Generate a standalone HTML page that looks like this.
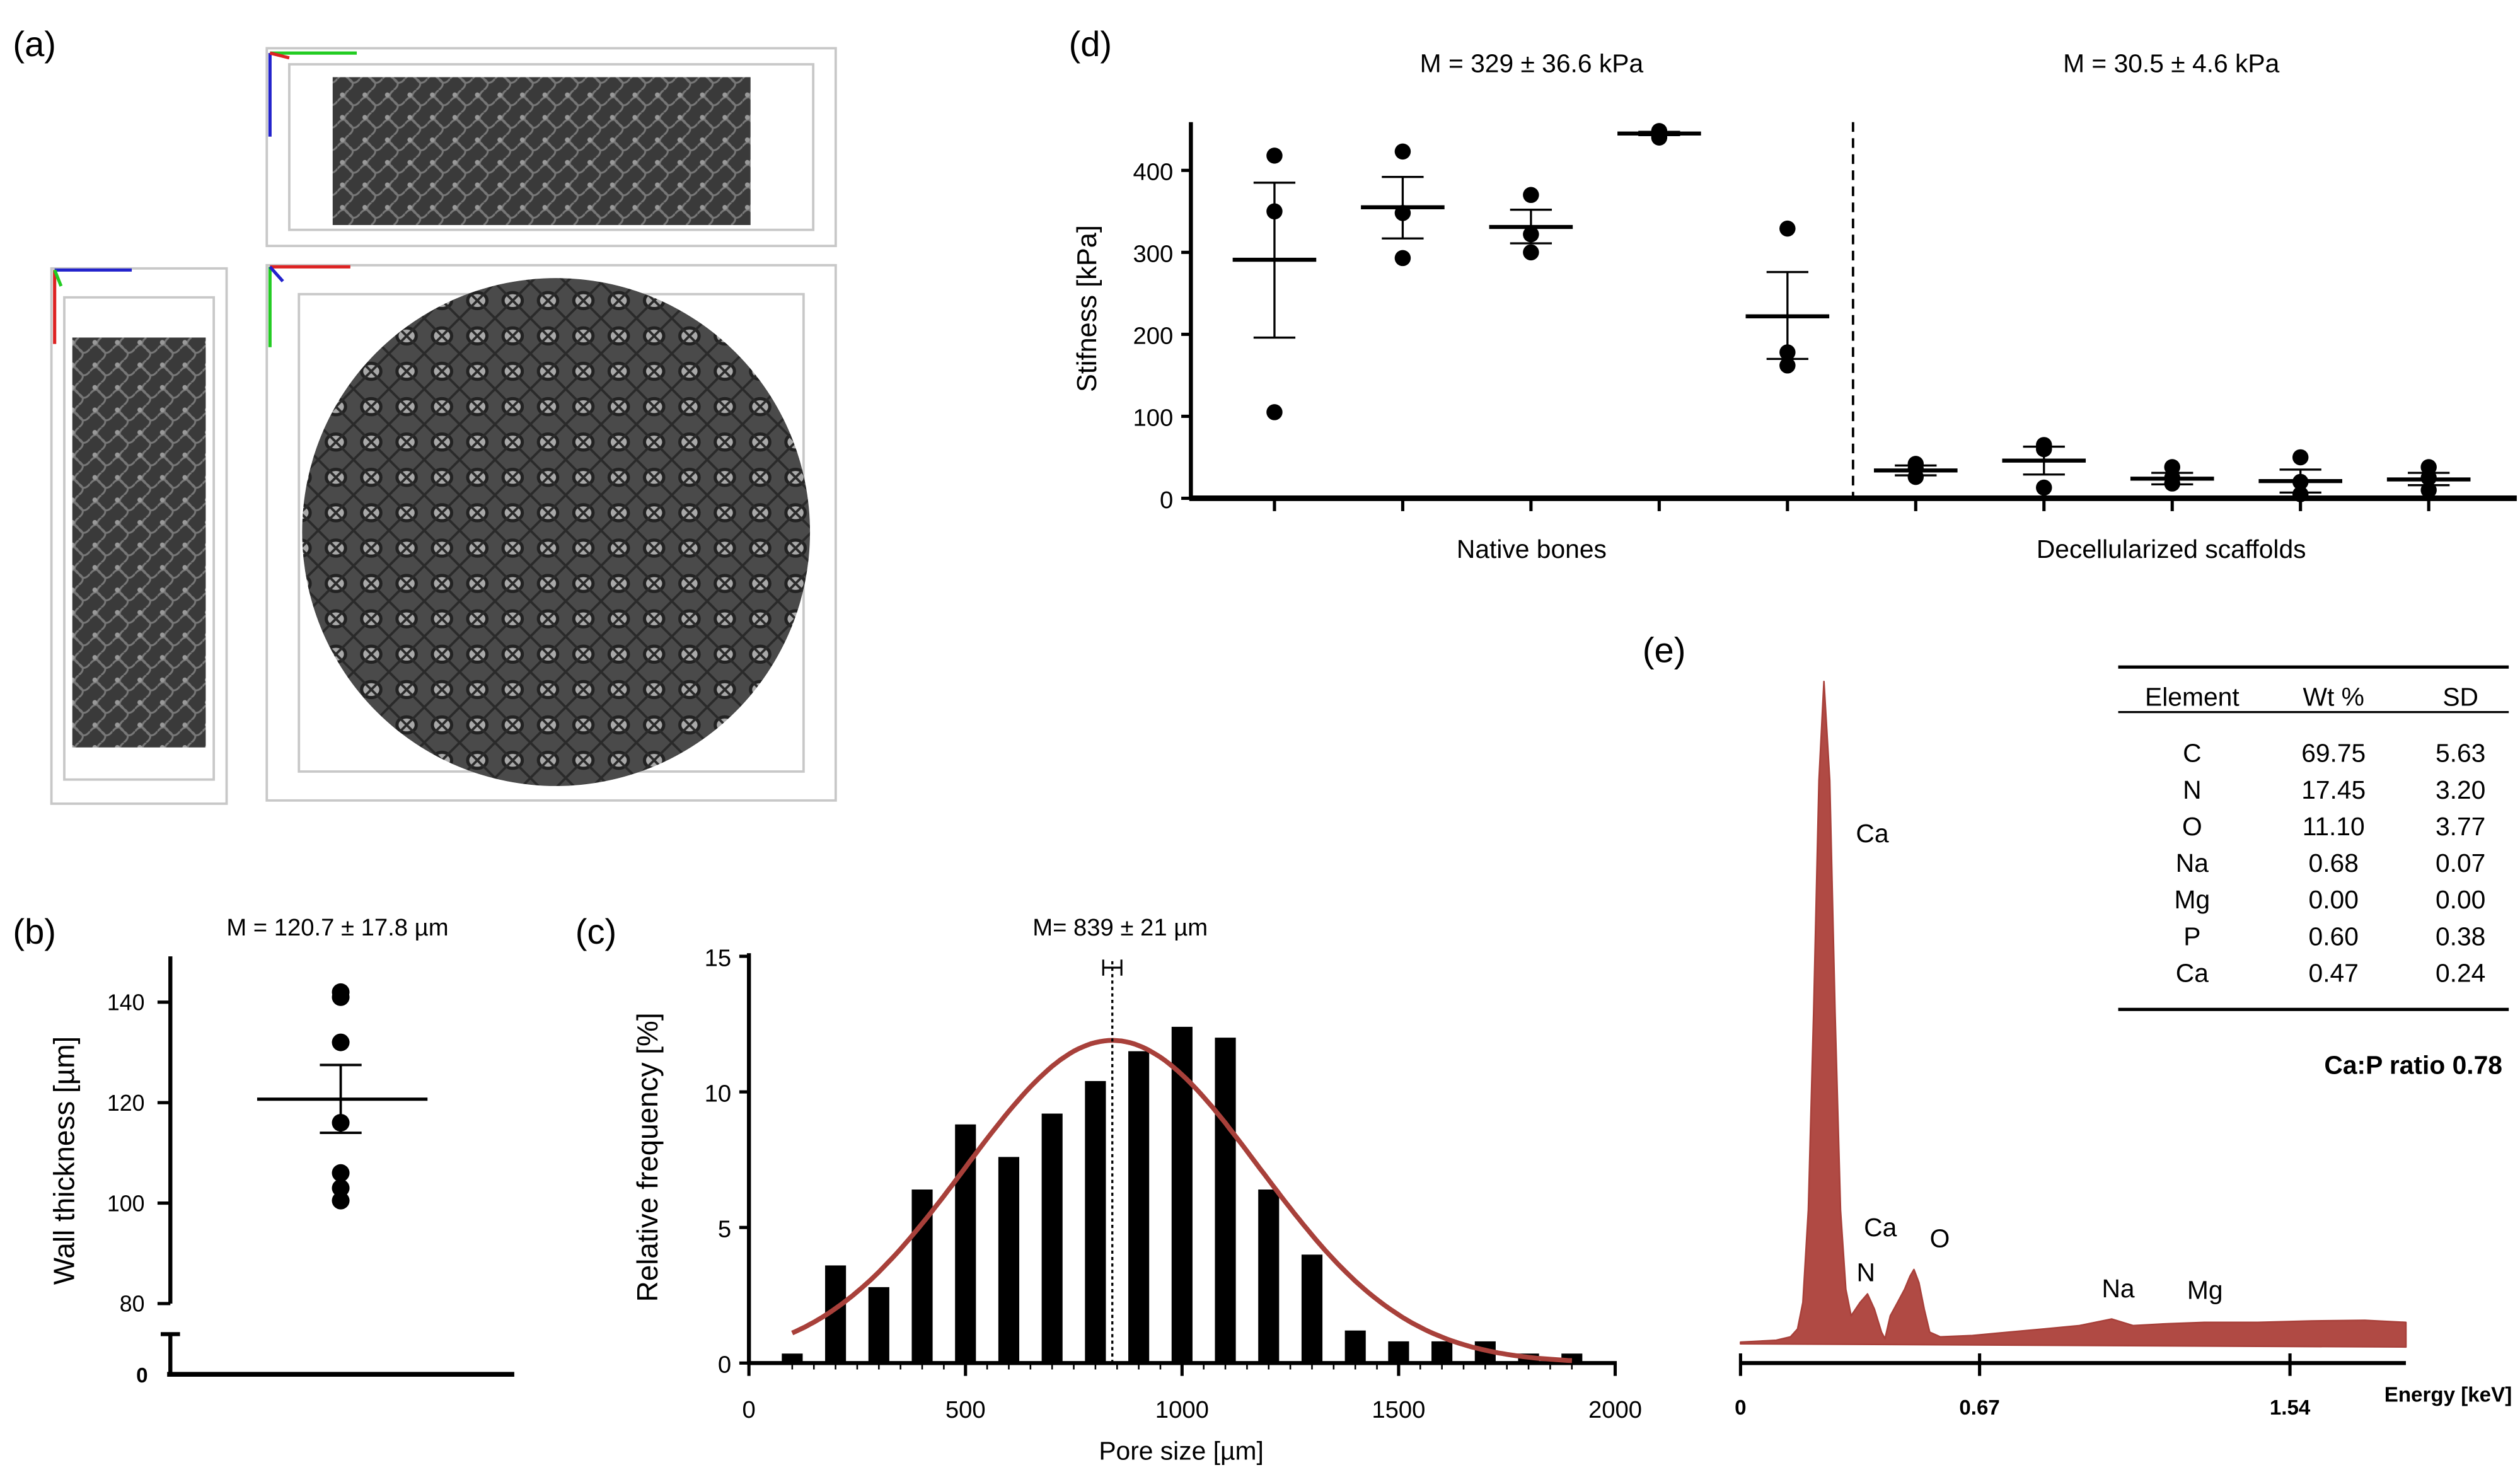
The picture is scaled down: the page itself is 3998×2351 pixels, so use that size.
<!DOCTYPE html>
<html><head><meta charset="utf-8"><style>
html,body{margin:0;padding:0;background:#fff;}
svg{display:block;font-family:"Liberation Sans",sans-serif;}
</style></head><body>
<svg id="fig" width="3998" height="2351" viewBox="0 0 1568 922" preserveAspectRatio="none" xmlns="http://www.w3.org/2000/svg">
<defs>
<pattern id="mesh" width="14" height="14" patternUnits="userSpaceOnUse">
<rect width="14" height="14" fill="#3a3a3a"/>
<path d="M0 7 Q4 2 7 7 T14 7 M7 0 Q2 4 7 7 T7 14" stroke="#777" stroke-width="1.2" fill="none"/>
<circle cx="3" cy="3" r="1.5" fill="#999"/>
</pattern>
<pattern id="mesh2" width="22" height="22" patternUnits="userSpaceOnUse">
<rect width="22" height="22" fill="#4a4a4a"/>
<ellipse cx="11" cy="11" rx="6" ry="5" fill="#a9a9a9" stroke="#222" stroke-width="2"/>
<path d="M0 0 L22 22 M22 0 L0 22" stroke="#2a2a2a" stroke-width="1.5"/>
</pattern>
</defs>
<g>
<text x="8" y="35" font-size="22">(a)</text>
<g fill="none" stroke="#c8c8c8" stroke-width="1.5">
<rect x="166" y="30" width="354" height="123"/><rect x="180" y="40" width="326" height="103"/>
<rect x="32" y="167" width="109" height="333"/><rect x="40" y="185" width="93" height="300"/>
<rect x="166" y="165" width="354" height="333"/><rect x="186" y="183" width="314" height="297"/>
</g>
<rect x="207" y="48" width="260" height="92" fill="url(#mesh)"/>
<rect x="45" y="210" width="83" height="255" fill="url(#mesh)"/>
<circle cx="346" cy="331" r="158" fill="url(#mesh2)"/>
<g stroke-width="2">
<line x1="168" y1="33" x2="222" y2="33" stroke="#2c2"/><line x1="168" y1="33" x2="168" y2="85" stroke="#22c"/><line x1="168" y1="33" x2="180" y2="36" stroke="#d22"/>
<line x1="34" y1="168" x2="82" y2="168" stroke="#22c"/><line x1="34" y1="168" x2="34" y2="214" stroke="#d22"/><line x1="34" y1="168" x2="38" y2="178" stroke="#2c2"/>
<line x1="168" y1="166" x2="218" y2="166" stroke="#d22"/><line x1="168" y1="166" x2="168" y2="216" stroke="#2c2"/><line x1="168" y1="166" x2="176" y2="175" stroke="#22c"/>
</g>
</g>
<text x="8" y="587" font-size="22">(b)</text>
<text x="210" y="582" font-size="15" text-anchor="middle">M = 120.7 ± 17.8 µm</text>
<text x="358" y="587" font-size="22">(c)</text>
<text x="697" y="582" font-size="15" text-anchor="middle">M= 839 ± 21 µm</text>
<text x="665" y="35" font-size="22">(d)</text>
<text x="953" y="45" font-size="16" text-anchor="middle">M = 329 ± 36.6 kPa</text>
<text x="1351" y="45" font-size="16" text-anchor="middle">M = 30.5 ± 4.6 kPa</text>
<text x="953" y="347" font-size="16" text-anchor="middle">Native bones</text>
<text x="1351" y="347" font-size="16" text-anchor="middle">Decellularized scaffolds</text>
<text x="1022" y="412" font-size="22">(e)</text>
<g id="root"></g>
</svg>
<script>
const wallPoints = [142, 141, 132, 116, 106, 103, 100.5];
const wallMean = [120.7];
const wallErr = [114, 127.5];
const wallTicks = [80, 100, 120, 140];
const poreBins = [100,200,300,400,500,600,700,800,900,1000,1100,1200,1300,1400,1500,1600,1700,1800,1900];
const poreFreq = [0.35,3.6,2.8,6.4,8.8,7.6,9.2,10.4,11.5,12.4,12.0,6.4,4.0,1.2,0.8,0.8,0.8,0.35,0.35];
const poreFit = [839, 339, 11.9];
const poreMeanErr = [818, 860];
const poreXTicks = [0,500,1000,1500,2000];
const poreYTicks = [0,5,10,15];
const stiffMeans = [291,355,331,445,222,34,46,24,21,23];
const stiffLow = [196,317,311,443,170,28,29,17,7,16];
const stiffHigh = [385,392,352,447,276,40,63,31,35,31];
const stiffPoints = [[418,350,105],[423,348,293],[370,322,300],[448,443,440],[329,178,162],[42,36,26],[65,60,13],[38,25,18],[50,20,5],[38,25,10]];
const stiffTicks = [0,100,200,300,400];
const specE = [0,0.1,0.14,0.16,0.175,0.19,0.205,0.22,0.234,0.25,0.265,0.28,0.295,0.31,0.335,0.356,0.375,0.395,0.405,0.42,0.44,0.46,0.475,0.486,0.5,0.515,0.53,0.56,0.65,0.75,0.85,0.95,1.04,1.1,1.2,1.3,1.45,1.6,1.75,1.865];
const specI = [0,0.3,0.8,2,6,20,50,85,100,85,50,20,8,4,6,7.3,5,1.5,0.5,4,6,8,10,11,9,5,1.5,0.8,1,1.5,2,2.5,3.5,2.5,2.8,3,3,3.2,3.3,3];
const specTicks = [0,0.67,1.54];
const tableRows = [["C","69.75","5.63"],["N","17.45","3.20"],["O","11.10","3.77"],["Na","0.68","0.07"],["Mg","0.00","0.00"],["P","0.60","0.38"],["Ca","0.47","0.24"]];
const peakLabels = [["Ca",1165,524],["Ca",1170,769],["N",1161,797],["O",1207,776],["Na",1318,807],["Mg",1372,808]];

const NS="http://www.w3.org/2000/svg";
const root=document.getElementById('root');
function mk(tag,attrs,parent){const e=document.createElementNS(NS,tag);for(const k in attrs)e.setAttribute(k,attrs[k]);(parent||root).appendChild(e);return e;}
function txt(s,attrs){const e=mk('text',attrs);e.textContent=s;return e;}

function bYs(v){return 811-(v-80)*3.125;}
let e;
e=mk('line',{x1:106,y1:595,x2:106,y2:811,stroke:'#000','stroke-width':2.5});


e=mk('line',{x1:106,y1:830,x2:106,y2:855,stroke:'#000','stroke-width':2.5});


e=mk('line',{x1:100,y1:830,x2:112,y2:830,stroke:'#000','stroke-width':2.5});


e=mk('line',{x1:104,y1:855,x2:320,y2:855,stroke:'#000','stroke-width':3});


e=txt('0',{x:92,y:860,'font-size':13,'text-anchor':'end','font-weight':'bold'});


wallTicks.forEach(t=>{
  e=mk('line',{x1:98,y1:bYs(t),x2:106,y2:bYs(t),stroke:'#000','stroke-width':2});
  
  
  e=txt(String(t),{x:90,y:bYs(t)+5,'font-size':14,'text-anchor':'end'});
  
  
});
e=txt('Wall thickness [µm]',{x:0,y:0,'font-size':18,'text-anchor':'middle',transform:'translate(46,722) rotate(-90)'});


wallPoints.forEach(v=>{
  e=mk('circle',{cx:212,cy:bYs(v),r:5.5,fill:'#000'});
  
  
});
e=mk('line',{x1:160,y1:bYs(wallMean[0]),x2:266,y2:bYs(wallMean[0]),stroke:'#000','stroke-width':2});


e=mk('path',{d:`M212 ${bYs(wallErr[0])}V${bYs(wallErr[1])}M199 ${bYs(wallErr[0])}H225M199 ${bYs(wallErr[1])}H225`,stroke:'#000','stroke-width':1.5,fill:'none'});



const cx=v=>466+v*0.2695, cy=v=>848-v*16.87;
poreBins.forEach((b,i)=>{
  e=mk('rect',{x:cx(b)-6.5,y:cy(poreFreq[i]),width:13,height:848-cy(poreFreq[i]),fill:'#000'});
  
  
});
e=mk('line',{x1:466,y1:593,x2:466,y2:849,stroke:'#000','stroke-width':2.5});


e=mk('line',{x1:466,y1:848,x2:1006,y2:848,stroke:'#000','stroke-width':2.5});


poreYTicks.forEach(t=>{
  e=mk('line',{x1:460,y1:cy(t),x2:466,y2:cy(t),stroke:'#000','stroke-width':2});
  
  
  e=txt(String(t),{x:455,y:cy(t)+6,'font-size':15,'text-anchor':'end'});
  
  
});
poreXTicks.forEach(t=>{
  e=mk('line',{x1:cx(t),y1:848,x2:cx(t),y2:856,stroke:'#000','stroke-width':2});
  
  
  e=txt(String(t),{x:cx(t),y:882,'font-size':15,'text-anchor':'middle'});
  
  
});
for(let b=100;b<=1900;b+=50){
  e=mk('line',{x1:cx(b),y1:848,x2:cx(b),y2:852,stroke:'#000','stroke-width':1});
  
  
}
let d='';
for(let x=100;x<=1900;x+=10){const y=poreFit[2]*Math.exp(-Math.pow(x-poreFit[0],2)/(2*poreFit[1]*poreFit[1]));d+=(x===100?'M':'L')+cx(x).toFixed(1)+' '+cy(y).toFixed(1);}
e=mk('path',{d:d,stroke:'#a8403a','stroke-width':3,fill:'none'});


e=mk('line',{x1:cx(poreFit[0]),y1:598,x2:cx(poreFit[0]),y2:848,stroke:'#000','stroke-width':1.3,'stroke-dasharray':'2,2'});


e=mk('path',{d:`M${cx(poreMeanErr[0])} 602H${cx(poreMeanErr[1])}M${cx(poreMeanErr[0])} 597V607M${cx(poreMeanErr[1])} 597V607`,stroke:'#000','stroke-width':1.2,fill:'none'});


e=txt('Relative frequency [%]',{x:0,y:0,'font-size':18,'text-anchor':'middle',transform:'translate(409,720) rotate(-90)'});


e=txt('Pore size [µm]',{x:735,y:908,'font-size':16,'text-anchor':'middle'});



const dY=v=>310-v*0.51, dX=i=>793+i*79.8;
e=mk('line',{x1:741,y1:76,x2:741,y2:311,stroke:'#000','stroke-width':2.5});


e=mk('line',{x1:740,y1:310,x2:1566,y2:310,stroke:'#000','stroke-width':3.5});


e=mk('line',{x1:1153,y1:76,x2:1153,y2:310,stroke:'#000','stroke-width':1.5,'stroke-dasharray':'6,4'});


stiffTicks.forEach(t=>{
  e=mk('line',{x1:735,y1:dY(t),x2:741,y2:dY(t),stroke:'#000','stroke-width':2});
  
  
  e=txt(String(t),{x:730,y:dY(t)+6,'font-size':15,'text-anchor':'end'});
  
  
});
e=txt('Stifness [kPa]',{x:0,y:0,'font-size':17,'text-anchor':'middle',transform:'translate(682,192) rotate(-90)'});


stiffMeans.forEach((m,i)=>{
  const x=dX(i);
  e=mk('line',{x1:x,y1:310,x2:x,y2:318,stroke:'#000','stroke-width':2});
  
  
  stiffPoints[i].forEach(v=>{
    e=mk('circle',{cx:x,cy:dY(v),r:5,fill:'#000'});
    
    
  });
  e=mk('path',{d:`M${x} ${dY(stiffLow[i])}V${dY(stiffHigh[i])}M${x-13} ${dY(stiffLow[i])}H${x+13}M${x-13} ${dY(stiffHigh[i])}H${x+13}`,stroke:'#000','stroke-width':1.3,fill:'none'});
  
  
  e=mk('line',{x1:x-26,y1:dY(m),x2:x+26,y2:dY(m),stroke:'#000','stroke-width':2.5});
  
  
});

const eX=v=>1083+v*222, eY=v=>835-v*4.11;
let sp='M'+eX(specE[0])+' 835';
specE.forEach((v,i)=>{sp+='L'+eX(v).toFixed(1)+' '+eY(specI[i]).toFixed(1);});
sp+='L'+eX(specE[specE.length-1])+' 838L'+eX(0)+' 836Z';
e=mk('path',{d:sp,fill:'#b04a44',stroke:'#a8403a','stroke-width':1,'stroke-linejoin':'round'});


e=mk('line',{x1:1083,y1:848,x2:1497,y2:848,stroke:'#000','stroke-width':2.5});


specTicks.forEach(t=>{
  e=mk('line',{x1:eX(t),y1:842,x2:eX(t),y2:856,stroke:'#000','stroke-width':2});
  
  
  e=txt(String(t),{x:eX(t),y:880,'font-size':13,'font-weight':'bold','text-anchor':'middle'});
  
  
});
e=txt('Energy [keV]',{x:1563,y:872,'font-size':13,'font-weight':'bold','text-anchor':'end'});


peakLabels.forEach(p=>{
  e=txt(p[0],{x:p[1],y:p[2],'font-size':16,'text-anchor':'middle'});
  
  
});
e=mk('line',{x1:1318,y1:415,x2:1561,y2:415,stroke:'#000','stroke-width':2});


e=mk('line',{x1:1318,y1:443,x2:1561,y2:443,stroke:'#000','stroke-width':1.3});


e=mk('line',{x1:1318,y1:628,x2:1561,y2:628,stroke:'#000','stroke-width':2});


[['Element',1364],['Wt %',1452],['SD',1531]].forEach(h=>{
  e=txt(h[0],{x:h[1],y:439,'font-size':16,'text-anchor':'middle'});
  
  
});
tableRows.forEach((r,i)=>{
  const y=474+i*22.8;
  [1364,1452,1531].forEach((x,j)=>{
    e=txt(r[j],{x:x,y:y,'font-size':16,'text-anchor':'middle'});
    
    
  });
});
e=txt('Ca:P ratio 0.78',{x:1557,y:668,'font-size':16,'font-weight':'bold','text-anchor':'end'});


</script>
</body></html>
